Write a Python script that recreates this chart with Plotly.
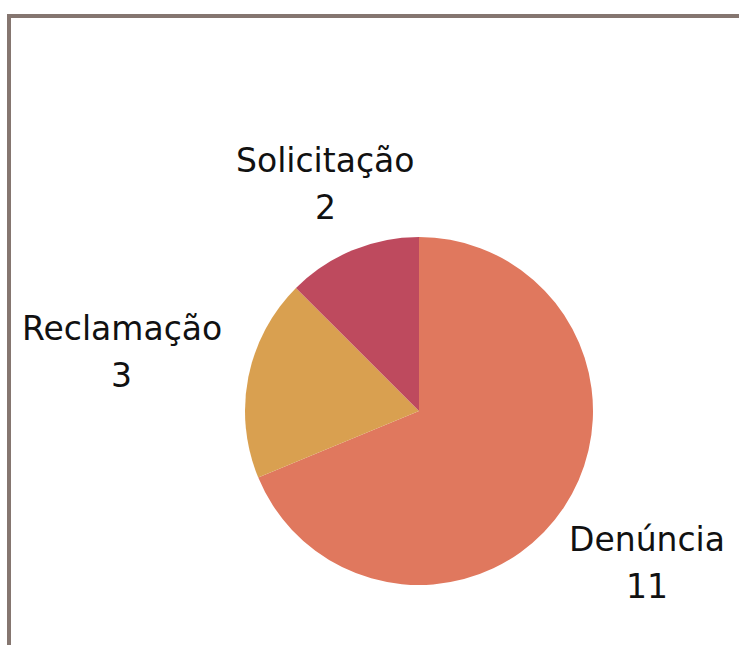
import math
import plotly.graph_objects as go

categories = ["Denúncia", "Reclamação", "Solicitação"]
values = [11, 3, 2]
colors = ["#E0785E", "#D9A050", "#BE4A5E"]

W, H = 739, 645
cx, cy, r = 419, 411, 174          # pie centre / radius in pixels
FONT = dict(family="DejaVu Sans", size=33, color="#111111", weight=400)
LINE_GAP = 47                       # px between label line and value line
GAP = 28                            # px between pie edge and label block
HALF_H = 40                         # half height of a two-line label block
CHAR_W = 0.6 * FONT["size"]

fig = go.Figure(go.Pie(
    labels=categories,
    values=values,
    sort=False,
    direction="clockwise",
    rotation=0,
    marker=dict(colors=colors, line=dict(width=0)),
    textinfo="none",
    showlegend=False,
    hoverinfo="label+value",
    domain=dict(x=[(cx - r) / W, (cx + r) / W],
                y=[(H - cy - r) / H, (H - cy + r) / H]),
))

# outside labels placed along each slice's mid angle
annotations = []
total = sum(values)
cum = 0
for lab, val in zip(categories, values):
    mid = (cum + val / 2) / total * 2 * math.pi   # clockwise from 12 o'clock
    cum += val
    ux, uy = math.sin(mid), -math.cos(mid)        # screen direction (y down)
    hw = 0.5 * len(lab) * CHAR_W
    ext = min(hw / max(abs(ux), 1e-6), HALF_H / max(abs(uy), 1e-6))
    d = r + GAP + ext
    px, py = cx + ux * d, cy + uy * d
    for txt, dy in ((lab, -LINE_GAP / 2), (str(val), LINE_GAP / 2)):
        annotations.append(dict(
            x=px / W, y=1 - (py + dy) / H, xref="paper", yref="paper",
            text=txt, showarrow=False, xanchor="center", yanchor="middle",
            font=FONT,
        ))

fig.update_layout(
    width=W, height=H,
    margin=dict(l=0, r=0, t=0, b=0),
    paper_bgcolor="white",
    plot_bgcolor="white",
    annotations=annotations,
    shapes=[
        dict(type="line", xref="paper", yref="paper",
             x0=9 / W, x1=1, y0=1 - 16 / H, y1=1 - 16 / H,
             line=dict(color="#857670", width=4)),
        dict(type="line", xref="paper", yref="paper",
             x0=9 / W, x1=9 / W, y0=1 - 14 / H, y1=0,
             line=dict(color="#857670", width=4)),
    ],
)

fig.write_html("out.html")
